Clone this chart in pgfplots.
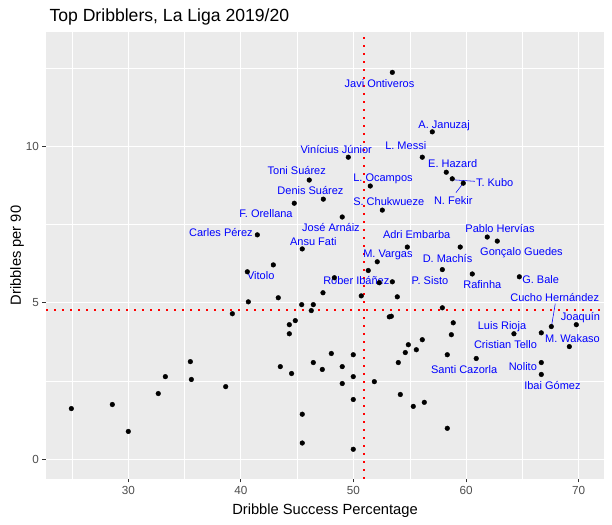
\documentclass[border=0pt]{standalone}
\usepackage{pgfplots}
\pgfplotsset{compat=1.18}
\usepackage{fontspec}
\setmainfont{Liberation Sans}
\definecolor{panelbg}{RGB}{235,235,235}
\definecolor{grey30}{RGB}{77,77,77}
\definecolor{grey20}{RGB}{51,51,51}
\definecolor{lblue}{RGB}{0,0,255}
\definecolor{vred}{RGB}{255,0,0}
\tikzset{lbl/.style={text=lblue, font=\fontsize{11}{12}\selectfont, inner sep=0pt, text height=7.9pt, text depth=0pt, anchor=center}}
\begin{document}
\begin{tikzpicture}[x=1pt,y=1pt]
\path[use as bounding box] (0,0) rectangle (612,524);
\begin{axis}[
  at={(46pt,45.3pt)}, anchor=south west,
  scale only axis, width=558pt, height=446.7pt,
  xmin=22.69, xmax=72.25, ymin=-0.62, ymax=13.65,
  axis background/.style={fill=panelbg},
  axis line style={draw=none},
  xtick={30,40,50,60,70}, ytick={0,5,10},
  minor xtick={25,35,45,55,65}, minor ytick={2.5,7.5,12.5},
  grid=both,
  major grid style={white, line width=1.07pt},
  minor grid style={white, line width=0.53pt},
  tick align=outside,
  xtick pos=bottom, ytick pos=left,
  major tick length=3.7pt, minor tick length=0pt,
  tick style={grey20, line width=1.07pt},
  ticklabel style={font=\fontsize{11.7}{13}\selectfont, text=grey30},
  /pgf/number format/assume math mode=true,
  clip=false,
]
\addplot[only marks, mark=*, mark size=2.35pt, black] coordinates {
(53.45,12.36) (57.00,10.46) (49.54,9.65) (56.11,9.65) (58.24,9.17)
(58.77,8.96) (59.75,8.82) (46.07,8.92) (51.49,8.73) (47.32,8.31)
(44.74,8.18) (52.56,7.96) (49.00,7.74) (41.46,7.17) (61.88,7.10)
(62.77,6.97) (54.78,6.78) (59.48,6.78) (45.45,6.72) (52.11,6.31)
(42.88,6.21) (57.89,6.06) (51.31,6.03) (40.57,5.99) (60.55,5.92)
(64.73,5.83) (48.30,5.80) (53.45,5.67) (52.29,5.64) (47.29,5.32)
(50.69,5.22) (53.89,5.19) (43.32,5.16) (40.66,5.03) (45.40,4.94)
(46.43,4.94) (57.89,4.84) (46.25,4.75) (39.24,4.65) (53.18,4.55)
(53.36,4.57) (44.83,4.43) (58.86,4.36) (44.30,4.30) (69.79,4.30)
(67.57,4.24) (66.68,4.04) (64.25,4.01) (44.30,4.01) (58.69,3.98)
(56.11,3.82) (54.87,3.66) (69.17,3.60) (55.58,3.50) (54.60,3.41)
(48.03,3.38) (49.98,3.34) (58.33,3.34) (60.90,3.22) (35.51,3.12)
(46.43,3.09) (53.98,3.09) (66.68,3.09) (43.50,2.96) (49.00,2.96)
(47.23,2.87) (44.50,2.74) (66.68,2.71) (33.29,2.64) (49.98,2.64)
(35.60,2.55) (51.85,2.48) (49.00,2.42) (38.65,2.32) (32.66,2.10)
(54.16,2.07) (49.98,1.91) (56.29,1.82) (28.58,1.75) (55.31,1.69)
(24.94,1.62) (45.45,1.44) (58.33,0.99) (30.00,0.89) (45.45,0.52)
(49.98,0.32)
};
\addplot[vred, line width=1.8pt, dash pattern=on 1.8pt off 6.2pt] coordinates {(50.9,-0.62) (50.9,13.65)};
\addplot[vred, line width=1.8pt, dash pattern=on 1.8pt off 6.2pt] coordinates {(22.69,4.76) (72.25,4.76)};
\draw[lblue, line width=0.55pt] (axis cs:58.77,8.93) -- (axis cs:60.78,8.88);
\draw[lblue, line width=0.55pt] (axis cs:59.75,8.82) -- (axis cs:59.10,8.52);
\draw[lblue, line width=0.55pt] (axis cs:67.57,4.22) -- (axis cs:67.92,4.97);
\node[lbl] at (axis cs:52.31,12.01) {Javi Ontiveros};
\node[lbl] at (axis cs:58.05,10.69) {A. Januzaj};
\node[lbl] at (axis cs:48.47,9.90) {Vinícius Júnior};
\node[lbl] at (axis cs:54.64,10.03) {L. Messi};
\node[lbl] at (axis cs:58.81,9.46) {E. Hazard};
\node[lbl] at (axis cs:62.54,8.84) {T. Kubo};
\node[lbl] at (axis cs:58.86,8.25) {N. Fekir};
\node[lbl] at (axis cs:52.62,8.99) {L. Ocampos};
\node[lbl] at (axis cs:53.13,8.22) {S. Chukwueze};
\node[lbl] at (axis cs:44.96,9.21) {Toni Suárez};
\node[lbl] at (axis cs:46.18,8.58) {Denis Suárez};
\node[lbl] at (axis cs:42.23,7.84) {F. Orellana};
\node[lbl] at (axis cs:48.00,7.41) {José Arnáiz};
\node[lbl] at (axis cs:38.23,7.24) {Carles Pérez};
\node[lbl] at (axis cs:46.43,6.96) {Ansu Fati};
\node[lbl] at (axis cs:63.01,7.36) {Pablo Hervías};
\node[lbl] at (axis cs:64.92,6.63) {Gonçalo Guedes};
\node[lbl] at (axis cs:55.61,7.18) {Adri Embarba};
\node[lbl] at (axis cs:53.06,6.58) {M. Vargas};
\node[lbl] at (axis cs:58.35,6.41) {D. Machís};
\node[lbl] at (axis cs:41.76,5.87) {Vitolo};
\node[lbl] at (axis cs:50.25,5.70) {Róber Ibáñez};
\node[lbl] at (axis cs:56.79,5.70) {P. Sisto};
\node[lbl] at (axis cs:61.44,5.58) {Rafinha};
\node[lbl] at (axis cs:66.62,5.73) {G. Bale};
\node[lbl] at (axis cs:67.87,5.17) {Cucho Hernández};
\node[lbl] at (axis cs:70.16,4.55) {Joaquín};
\node[lbl] at (axis cs:63.19,4.27) {Luis Rioja};
\node[lbl] at (axis cs:69.45,3.86) {M. Wakaso};
\node[lbl] at (axis cs:63.50,3.66) {Cristian Tello};
\node[lbl] at (axis cs:59.83,2.88) {Santi Cazorla};
\node[lbl] at (axis cs:65.04,2.97) {Nolito};
\node[lbl] at (axis cs:67.67,2.36) {Ibai Gómez};
\end{axis}
\node[anchor=base west, font=\fontsize{17.6}{20}\selectfont] at (46,502.3) {Top Dribblers, La Liga 2019/20};
\node[rotate=90, font=\fontsize{14.7}{16}\selectfont] at (17,268.5) {Dribbles per 90};
\node[font=\fontsize{14.7}{16}\selectfont] at (325,13) {Dribble Success Percentage};
\end{tikzpicture}
\end{document}
